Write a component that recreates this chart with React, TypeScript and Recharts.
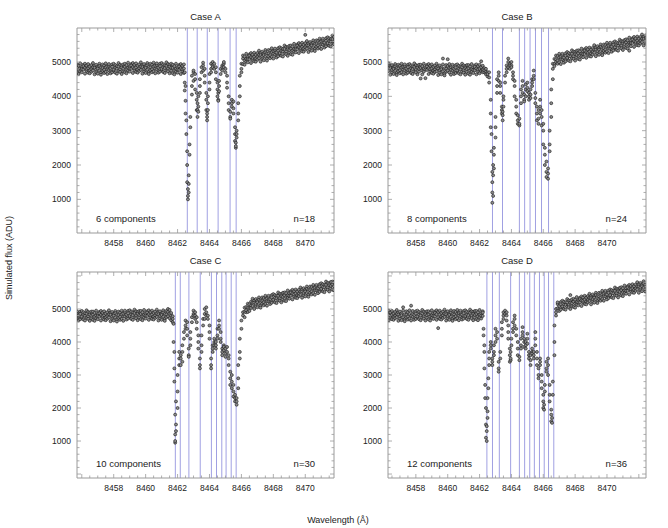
import { ScatterChart, Scatter, XAxis, YAxis, ReferenceLine } from 'recharts'

// each row: [wavelength (Å), simulated flux values (ADU) at that wavelength...]
const caseAFlux: number[][] = [
  [8455.7, 4840, 4680, 4930], [8455.8, 4770, 4890, 4650], [8455.9, 4810, 4960, 4730], [8456.0, 4860, 4700, 4790],
  [8456.1, 4920, 4780, 4880], [8456.2, 4660, 4830, 4950], [8456.3, 4740, 4800, 4900], [8456.4, 4690, 4940, 4820],
  [8456.5, 4760, 4870, 4670], [8456.6, 4910, 4790, 4720], [8456.7, 4850, 4970, 4750], [8456.8, 4640, 4890, 4830],
  [8456.9, 4920, 4710, 4780], [8457.0, 4860, 4660, 4810], [8457.1, 4950, 4750, 4880], [8457.2, 4690, 4840, 4630],
  [8457.3, 4820, 4930, 4740], [8457.4, 4770, 4900, 4680], [8457.5, 4960, 4710, 4850], [8457.6, 4790, 4650, 4870],
  [8457.7, 4890, 4760, 4940], [8457.8, 4720, 4820, 4670], [8457.9, 4930, 4860, 4700], [8458.0, 4750, 4950, 4780],
  [8458.1, 4830, 4690, 4910], [8458.2, 4660, 4880, 4800], [8458.3, 4870, 4740, 4970], [8458.4, 4780, 4920, 4710],
  [8458.5, 4900, 4650, 4840], [8458.6, 4730, 4810, 4930], [8458.7, 4860, 4700, 4950], [8458.8, 4790, 4910, 4670],
  [8458.9, 4830, 4980, 4750], [8459.0, 4880, 4720, 4810], [8459.1, 4940, 4800, 4900], [8459.2, 4680, 4850, 4970],
  [8459.3, 4760, 4820, 4920], [8459.4, 4710, 4960, 4840], [8459.5, 4780, 4890, 4690], [8459.6, 4930, 4810, 4740],
  [8459.7, 4870, 4990, 4770], [8459.8, 4660, 4910, 4850], [8459.9, 4940, 4730, 4800], [8460.0, 4880, 4680, 4830],
  [8460.1, 4970, 4770, 4900], [8460.2, 4710, 4860, 4650], [8460.3, 4840, 4950, 4760], [8460.4, 4790, 4920, 4700],
  [8460.5, 4980, 4730, 4870], [8460.6, 4810, 4670, 4890], [8460.7, 4910, 4780, 4960], [8460.8, 4740, 4840, 4690],
  [8460.9, 4950, 4880, 4720], [8461.0, 4770, 4970, 4800], [8461.1, 4850, 4710, 4930], [8461.2, 4680, 4900, 4820],
  [8461.3, 4890, 4760, 4990], [8461.4, 4800, 4940, 4730], [8461.5, 4920, 4670, 4860], [8461.6, 4750, 4830, 4950],
  [8461.7, 4830, 4670, 4920], [8461.8, 4760, 4880, 4640], [8461.9, 4800, 4950, 4720], [8462.0, 4850, 4690, 4780],
  [8462.1, 4910, 4770, 4870], [8462.2, 4650, 4820, 4940], [8462.3, 4730, 4790, 4890], [8462.4, 4680, 4930, 4810],
  [8462.45, 4700, 4400, 4170], [8462.5, 3870, 3500, 4300], [8462.55, 2900, 3300], [8462.6, 2000, 1500, 2400],
  [8462.65, 1100, 1300, 1000], [8462.7, 1700, 1200, 1450], [8462.75, 2600, 2300], [8462.8, 3100, 3400],
  [8462.9, 4300, 4050, 4600], [8463.0, 4700, 4450, 4750], [8463.1, 4500, 4200, 4650], [8463.2, 3900, 3600, 4100],
  [8463.25, 3400, 3600, 3800], [8463.3, 3700, 4000, 3550], [8463.4, 4300, 4100, 4500], [8463.5, 4700, 4850],
  [8463.6, 4900, 4750, 4980], [8463.7, 4600, 4800, 4400], [8463.8, 3900, 4100, 3600], [8463.85, 3300, 3500, 3400],
  [8463.9, 3800, 3600, 4000], [8464.0, 4400, 4650, 4200], [8464.1, 4800, 4950, 4700], [8464.2, 5000, 4900, 4850],
  [8464.3, 4950, 4800], [8464.4, 4700, 4500, 4850], [8464.5, 4200, 4000, 4400], [8464.55, 3900, 4100, 3870],
  [8464.6, 4300, 4150, 4450], [8464.7, 4650, 4800], [8464.8, 4900, 4750, 4850], [8464.9, 4950, 5000, 4850],
  [8465.0, 4800, 4700], [8465.1, 4400, 4250, 4600], [8465.2, 3800, 3600, 4000], [8465.3, 3400, 3550, 3350],
  [8465.4, 3700, 3900, 3800], [8465.5, 3650, 3500, 3850], [8465.6, 2900, 3100, 2700], [8465.65, 2500, 2650, 2550],
  [8465.7, 2800, 3000, 2900], [8465.8, 3500, 3300, 3800], [8465.9, 4300, 4000, 4600], [8466.0, 4800, 4700, 4950],
  [8466.1, 5100, 4940, 5190], [8466.2, 5040, 5160, 4920], [8466.3, 5090, 5240, 5010], [8466.4, 5150, 4990, 5080],
  [8466.5, 5220, 5080, 5180], [8466.6, 4970, 5140, 5260], [8466.7, 5060, 5120, 5220], [8466.8, 5020, 5270, 5150],
  [8466.9, 5100, 5210, 5010], [8467.0, 5260, 5140, 5070], [8467.1, 5210, 5330, 5110], [8467.2, 5010, 5260, 5200],
  [8467.3, 5300, 5090, 5160], [8467.4, 5250, 5050, 5200], [8467.5, 5350, 5150, 5280], [8467.6, 5100, 5250, 5040],
  [8467.7, 5240, 5350, 5160], [8467.8, 5200, 5330, 5110], [8467.9, 5400, 5150, 5290], [8468.0, 5240, 5100, 5320],
  [8468.1, 5340, 5210, 5390], [8468.2, 5180, 5280, 5130], [8468.3, 5400, 5330, 5170], [8468.4, 5230, 5430, 5260],
  [8468.5, 5320, 5180, 5400], [8468.6, 5160, 5380, 5300], [8468.7, 5380, 5250, 5480], [8468.8, 5300, 5440, 5230],
  [8468.9, 5430, 5180, 5370], [8469.0, 5270, 5350, 5470], [8469.1, 5390, 5230, 5480], [8469.2, 5330, 5450, 5210],
  [8469.3, 5380, 5530, 5300], [8469.4, 5440, 5280, 5370], [8469.5, 5510, 5370, 5470], [8469.6, 5260, 5430, 5550],
  [8469.7, 5350, 5410, 5510], [8469.8, 5310, 5560, 5440], [8469.9, 5390, 5500, 5300], [8470.0, 5550, 5430, 5360, 5790],
  [8470.1, 5490, 5610, 5390], [8470.2, 5290, 5540, 5480], [8470.3, 5580, 5370, 5440], [8470.4, 5530, 5330, 5480],
  [8470.5, 5630, 5430, 5560], [8470.6, 5380, 5530, 5320], [8470.7, 5520, 5630, 5440], [8470.8, 5480, 5610, 5390],
  [8470.9, 5680, 5430, 5570], [8471.0, 5520, 5380, 5600], [8471.1, 5630, 5500, 5680], [8471.2, 5470, 5570, 5420],
  [8471.3, 5690, 5620, 5460], [8471.4, 5520, 5720, 5550], [8471.5, 5610, 5470, 5690], [8471.6, 5450, 5670, 5590],
  [8471.7, 5670, 5540, 5770], [8471.8, 5590, 5730, 5520],
]
const caseALines = [8462.61, 8463.23, 8463.86, 8464.54, 8465.29, 8465.67]

const caseBFlux: number[][] = [
  [8456.3, 4840, 4960, 4740], [8456.4, 4630, 4880, 4820], [8456.5, 4910, 4700, 4770], [8456.6, 4850, 4650, 4800],
  [8456.7, 4940, 4740, 4870], [8456.8, 4680, 4830, 4620], [8456.9, 4810, 4920, 4730], [8457.0, 4760, 4890, 4670],
  [8457.1, 4950, 4700, 4840], [8457.2, 4780, 4640, 4860], [8457.3, 4880, 4750, 4930], [8457.4, 4710, 4810, 4660],
  [8457.5, 4920, 4850, 4690], [8457.6, 4740, 4940, 4770], [8457.7, 4820, 4680, 4900], [8457.8, 4650, 4870, 4790],
  [8457.9, 4860, 4730, 4960], [8458.0, 4770, 4910, 4700], [8458.1, 4890, 4640, 4830], [8458.2, 4720, 4800, 4920],
  [8458.3, 4830, 4520, 4920], [8458.4, 4760, 4880, 4640], [8458.5, 4800, 4950, 4720], [8458.6, 4850, 4530, 4780],
  [8458.7, 4910, 4770, 4870], [8458.8, 4650, 4820, 4940], [8458.9, 4730, 4790, 4890], [8459.0, 4680, 4930, 4810],
  [8459.1, 4750, 4860, 4660], [8459.2, 4900, 4780, 4710], [8459.3, 4830, 4950, 4730], [8459.4, 4620, 4870, 4810],
  [8459.5, 4900, 4690, 4760], [8459.6, 4840, 4640, 4790], [8459.7, 4930, 4730, 5100], [8459.8, 4670, 4820, 4610],
  [8459.9, 4800, 4910, 4720], [8460.0, 4750, 4880, 5080], [8460.1, 4940, 4690, 4830], [8460.2, 4770, 4630, 4850],
  [8460.3, 4870, 4740, 4920], [8460.4, 4700, 4800, 4650], [8460.5, 4910, 4840, 4680], [8460.6, 4730, 4930, 4760],
  [8460.7, 4810, 4670, 4890], [8460.8, 4640, 4860, 4780], [8460.9, 4850, 4720, 4950], [8461.0, 4760, 4900, 4690],
  [8461.1, 4880, 4630, 4820], [8461.2, 4710, 4790, 4910], [8461.3, 4820, 4660, 4910], [8461.4, 4750, 4870, 4630],
  [8461.5, 4790, 4940, 4710], [8461.6, 4840, 4680, 4770], [8461.7, 4900, 4760, 4860], [8461.8, 4640, 4810, 4930],
  [8461.9, 4720, 4780, 4880], [8462.0, 4670, 4920, 4800], [8462.1, 4740, 4850, 5020], [8462.2, 4890, 4770, 4700],
  [8462.3, 4820, 4700, 4760], [8462.4, 4720, 4640, 4800], [8462.5, 4700, 4580, 4650],
  [8462.6, 4700, 4550, 4400], [8462.7, 3500, 3900, 3100], [8462.75, 2900, 2400], [8462.8, 1800, 1200, 1500, 900],
  [8462.85, 1100, 1700, 2000], [8462.9, 2300, 2500, 1900], [8463.0, 3400, 3100, 2800], [8463.1, 4300, 4100, 4500],
  [8463.2, 4600, 4700, 4450], [8463.3, 4300, 4100, 4400], [8463.4, 3700, 3500, 3600], [8463.45, 3300, 3450, 3550],
  [8463.5, 3900, 3700, 4000], [8463.6, 4400, 4600], [8463.7, 4800, 4700, 4900], [8463.8, 5000, 4850, 5100],
  [8463.9, 4950, 4900, 4800], [8464.0, 4900, 5000, 4850], [8464.1, 4700, 4500, 4600], [8464.2, 4300, 4000, 4450],
  [8464.3, 3700, 3500, 3900], [8464.4, 3300, 3200, 3450], [8464.5, 3150, 3350, 3200], [8464.6, 3800, 4000, 4200],
  [8464.7, 4300, 4450, 4100], [8464.8, 3900, 4050, 3850], [8464.9, 4200, 4350, 4000], [8465.0, 4400, 4250, 4150],
  [8465.1, 4000, 3900, 4100], [8465.2, 4050, 4200, 3950], [8465.3, 4300, 4500, 4400], [8465.4, 4600, 4750, 4500],
  [8465.5, 4100, 3800, 3950], [8465.6, 3500, 3300, 3700], [8465.7, 3350, 3200, 3600], [8465.8, 3700, 3900, 3500],
  [8465.9, 3400, 3600, 3150], [8466.0, 3000, 2600, 3200], [8466.1, 2300, 2000, 2500], [8466.2, 1800, 1650, 2100],
  [8466.3, 1600, 1750, 1900], [8466.4, 2600, 2400, 3000], [8466.5, 3800, 3400, 4200], [8466.6, 4800, 4500, 4950],
  [8466.7, 4940, 5090, 4880], [8466.8, 5080, 5190, 5000], [8466.9, 5040, 5170, 4950], [8467.0, 5240, 4990, 5130],
  [8467.1, 5080, 4940, 5160], [8467.2, 5190, 5060, 5240], [8467.3, 5030, 5130, 4980], [8467.4, 5250, 5180, 5020],
  [8467.5, 5090, 5290, 5120], [8467.6, 5180, 5040, 5260], [8467.7, 5020, 5240, 5160], [8467.8, 5240, 5110, 5340],
  [8467.9, 5160, 5300, 5090], [8468.0, 5290, 5040, 5230], [8468.1, 5130, 5210, 5330], [8468.2, 5250, 5090, 5340],
  [8468.3, 5190, 5310, 5070], [8468.4, 5240, 5390, 5160], [8468.5, 5300, 5140, 5230], [8468.6, 5370, 5230, 5330],
  [8468.7, 5120, 5290, 5410], [8468.8, 5210, 5270, 5370], [8468.9, 5170, 5420, 5300], [8469.0, 5250, 5360, 5160],
  [8469.1, 5410, 5290, 5220], [8469.2, 5370, 5490, 5270], [8469.3, 5170, 5420, 5360], [8469.4, 5460, 5250, 5320],
  [8469.5, 5410, 5210, 5360], [8469.6, 5510, 5310, 5440], [8469.7, 5260, 5410, 5200], [8469.8, 5400, 5510, 5320],
  [8469.9, 5360, 5490, 5270], [8470.0, 5560, 5310, 5450], [8470.1, 5400, 5260, 5480], [8470.2, 5510, 5380, 5560],
  [8470.3, 5350, 5450, 5300], [8470.4, 5570, 5500, 5340], [8470.5, 5400, 5600, 5430], [8470.6, 5490, 5350, 5570],
  [8470.7, 5330, 5550, 5470], [8470.8, 5550, 5420, 5650], [8470.9, 5470, 5610, 5400], [8471.0, 5600, 5350, 5540],
  [8471.1, 5440, 5520, 5640], [8471.2, 5570, 5410, 5660], [8471.3, 5510, 5630, 5390], [8471.4, 5560, 5710, 5480, 5330],
  [8471.5, 5620, 5460, 5550], [8471.6, 5690, 5550, 5650], [8471.7, 5440, 5610, 5730], [8471.8, 5530, 5590, 5690],
  [8471.9, 5490, 5740, 5620], [8472.0, 5570, 5680, 5480], [8472.1, 5730, 5610, 5540], [8472.2, 5680, 5800, 5580],
  [8472.3, 5480, 5730, 5670], [8472.4, 5770, 5560, 5630],
]
const caseBLines = [8462.81, 8463.44, 8464.5, 8464.83, 8465.17, 8465.51, 8465.89, 8466.33]

const caseCFlux: number[][] = [
  [8455.7, 4880, 4750, 4930], [8455.8, 4710, 4810, 4660], [8455.9, 4920, 4850, 4690], [8456.0, 4740, 4940, 4770],
  [8456.1, 4820, 4680, 4900], [8456.2, 4650, 4870, 4790], [8456.3, 4860, 4730, 4960], [8456.4, 4770, 4910, 4700],
  [8456.5, 4890, 4640, 4830], [8456.6, 4720, 4800, 4920], [8456.7, 4830, 4670, 4920], [8456.8, 4760, 4880, 4640],
  [8456.9, 4800, 4950, 4720], [8457.0, 4850, 4690, 4780], [8457.1, 4910, 4770, 4870], [8457.2, 4650, 4820, 4940],
  [8457.3, 4730, 4790, 4890], [8457.4, 4680, 4930, 4810], [8457.5, 4750, 4860, 4660], [8457.6, 4900, 4780, 4710],
  [8457.7, 4840, 4960, 4740], [8457.8, 4630, 4880, 4820], [8457.9, 4910, 4700, 4770], [8458.0, 4850, 4650, 4800],
  [8458.1, 4940, 4740, 4870], [8458.2, 4680, 4830, 4620], [8458.3, 4810, 4920, 4730], [8458.4, 4760, 4890, 4670],
  [8458.5, 4950, 4700, 4840], [8458.6, 4780, 4640, 4860], [8458.7, 4900, 4770, 4950], [8458.8, 4730, 4830, 4680],
  [8458.9, 4940, 4870, 4710], [8459.0, 4760, 4960, 4790], [8459.1, 4840, 4700, 4920], [8459.2, 4670, 4890, 4810],
  [8459.3, 4880, 4750, 4980], [8459.4, 4790, 4930, 4720], [8459.5, 4910, 4660, 4850], [8459.6, 4740, 4820, 4940],
  [8459.7, 4850, 4690, 4940], [8459.8, 4780, 4900, 4660], [8459.9, 4820, 4970, 4740], [8460.0, 4870, 4710, 4800],
  [8460.1, 4930, 4790, 4890], [8460.2, 4670, 4840, 4960], [8460.3, 4750, 4810, 4910], [8460.4, 4700, 4950, 4830],
  [8460.5, 4770, 4880, 4680], [8460.6, 4920, 4800, 4730], [8460.7, 4860, 4980, 4760], [8460.8, 4650, 4900, 4840],
  [8460.9, 4930, 4720, 4790], [8461.0, 4870, 4670, 4820], [8461.1, 4960, 4760, 4890], [8461.2, 4700, 4850, 4640],
  [8461.3, 4830, 4940, 4750], [8461.4, 4780, 4910, 5000], [8461.5, 4970, 4720, 4860], [8461.6, 4800, 4660, 4880],
  [8461.7, 4700, 4600, 4780],
  [8461.75, 4550, 4000], [8461.8, 3700, 3200, 2800], [8461.85, 1800, 1200, 950, 1000], [8461.9, 1500, 2200, 1300],
  [8462.0, 2500, 3000, 2000], [8462.1, 3500, 3300, 3700], [8462.2, 3300, 3600, 3500], [8462.3, 3400, 3700, 3900],
  [8462.4, 4100, 4300], [8462.5, 4500, 4650, 4400], [8462.6, 4400, 4200, 4600], [8462.7, 3600, 3800, 3550],
  [8462.8, 3900, 4100, 4300], [8462.9, 4600, 4750], [8463.0, 4850, 4950, 4800], [8463.1, 4800, 4900, 4700],
  [8463.2, 4600, 4750, 4400], [8463.3, 4000, 4200, 3800], [8463.4, 3300, 3200, 3500], [8463.5, 3700, 3900, 4200],
  [8463.6, 4500, 4700], [8463.7, 4850, 5000, 4700], [8463.8, 4900, 5050, 4800], [8463.9, 4800, 4700],
  [8464.0, 4300, 4100, 4500], [8464.1, 3300, 3200, 3500], [8464.2, 3700, 3900, 3800], [8464.3, 4000, 3900, 4100],
  [8464.4, 3800, 3900, 4000], [8464.5, 4200, 4400, 4100], [8464.6, 4500, 4400, 4650], [8464.7, 4100, 4300, 4000],
  [8464.8, 3700, 3800, 3600], [8464.9, 3900, 3750, 3850], [8465.0, 3650, 3800, 3550], [8465.1, 3700, 3850],
  [8465.2, 3500, 3300, 3600], [8465.3, 2900, 2700, 3100], [8465.4, 2800, 2600, 3000], [8465.5, 2500, 2700, 2350],
  [8465.6, 2300, 2200, 2400], [8465.7, 2100, 2200, 2300], [8465.8, 2600, 2900, 3300], [8465.9, 3700, 4100, 3500],
  [8466.0, 4400, 4650], [8466.1, 4800, 4900],
  [8466.2, 4750, 4920, 5040], [8466.3, 4900, 4960, 5060], [8466.4, 4910, 5160, 5040], [8466.5, 5030, 5140, 4940],
  [8466.6, 5220, 5100, 5030], [8466.7, 5190, 5310, 5090], [8466.8, 5000, 5250, 5190], [8466.9, 5300, 5090, 5160],
  [8467.0, 5250, 5050, 5200], [8467.1, 5350, 5150, 5280], [8467.2, 5100, 5250, 5040], [8467.3, 5240, 5350, 5160],
  [8467.4, 5200, 5330, 5110], [8467.5, 5400, 5150, 5290], [8467.6, 5240, 5100, 5320], [8467.7, 5350, 5220, 5400],
  [8467.8, 5200, 5300, 5150], [8467.9, 5420, 5350, 5190], [8468.0, 5250, 5450, 5280], [8468.1, 5340, 5200, 5420],
  [8468.2, 5180, 5400, 5320], [8468.3, 5400, 5270, 5500], [8468.4, 5320, 5460, 5250], [8468.5, 5450, 5200, 5390],
  [8468.6, 5290, 5370, 5490], [8468.7, 5410, 5250, 5500], [8468.8, 5360, 5480, 5240], [8468.9, 5410, 5560, 5330],
  [8469.0, 5470, 5310, 5400], [8469.1, 5540, 5400, 5500], [8469.2, 5290, 5460, 5580], [8469.3, 5380, 5440, 5540],
  [8469.4, 5340, 5590, 5470], [8469.5, 5420, 5530, 5330], [8469.6, 5580, 5460, 5390], [8469.7, 5530, 5650, 5430],
  [8469.8, 5340, 5590, 5530], [8469.9, 5630, 5420, 5490], [8470.0, 5580, 5380, 5530], [8470.1, 5680, 5480, 5610],
  [8470.2, 5430, 5580, 5370], [8470.3, 5570, 5680, 5490], [8470.4, 5530, 5660, 5440], [8470.5, 5730, 5480, 5620],
  [8470.6, 5570, 5430, 5650], [8470.7, 5680, 5550, 5730], [8470.8, 5530, 5630, 5480], [8470.9, 5750, 5680, 5520],
  [8471.0, 5580, 5780, 5610], [8471.1, 5670, 5530, 5750], [8471.2, 5510, 5730, 5650], [8471.3, 5730, 5600, 5830],
  [8471.4, 5650, 5790, 5580], [8471.5, 5780, 5530, 5720], [8471.6, 5620, 5700, 5820], [8471.7, 5740, 5580, 5830],
  [8471.8, 5690, 5810, 5570],
]
const caseCLines = [8461.86, 8462.17, 8462.71, 8463.42, 8464.12, 8464.44, 8464.77, 8465.04, 8465.36, 8465.67]

const caseDFlux: number[][] = [
  [8456.3, 4660, 4830, 4950], [8456.4, 4740, 4800, 4900], [8456.5, 4690, 4940, 4820], [8456.6, 4760, 4870, 4670],
  [8456.7, 4910, 4790, 4720], [8456.8, 4850, 4970, 4750], [8456.9, 4640, 4890, 4830], [8457.0, 4920, 4710, 4780],
  [8457.1, 4860, 4660, 4810], [8457.2, 4950, 4750, 5050], [8457.3, 4690, 4840, 4630], [8457.4, 4820, 4930, 4740],
  [8457.5, 4770, 4900, 4680], [8457.6, 4960, 4710, 4850], [8457.7, 4790, 4650, 5100], [8457.8, 4890, 4760, 4940],
  [8457.9, 4720, 4820, 4670], [8458.0, 4930, 4860, 4700], [8458.1, 4750, 4950, 4780], [8458.2, 4830, 4690, 4910],
  [8458.3, 4660, 4880, 4800], [8458.4, 4870, 4740, 4970], [8458.5, 4780, 4920, 4710], [8458.6, 4900, 4650, 4840],
  [8458.7, 4730, 4810, 4930], [8458.8, 4840, 4680, 4930], [8458.9, 4770, 4890, 4650], [8459.0, 4810, 4960, 4730],
  [8459.1, 4860, 4700, 4790], [8459.2, 4920, 4780, 4880], [8459.3, 4670, 4840, 4960], [8459.4, 4750, 4420, 4910],
  [8459.5, 4700, 4950, 4830], [8459.6, 4770, 4880, 4680], [8459.7, 4920, 4800, 4730], [8459.8, 4860, 4980, 4760],
  [8459.9, 4650, 4900, 4840], [8460.0, 4930, 4720, 4790], [8460.1, 4870, 4670, 4820], [8460.2, 4960, 4760, 4890],
  [8460.3, 4700, 4850, 4640], [8460.4, 4830, 4940, 4750], [8460.5, 4780, 4910, 4690], [8460.6, 4970, 4720, 4860],
  [8460.7, 4800, 4660, 4880], [8460.8, 4900, 4770, 4950], [8460.9, 4730, 4830, 4680], [8461.0, 4940, 4870, 4710],
  [8461.1, 4760, 4960, 4790], [8461.2, 4840, 4700, 4920], [8461.3, 4670, 4890, 4810], [8461.4, 4880, 4750, 4980],
  [8461.5, 4790, 4930, 4720], [8461.6, 4910, 4660, 4850], [8461.7, 4740, 4820, 4940], [8461.8, 4850, 4690, 4940],
  [8461.9, 4780, 4900, 4660], [8462.0, 4820, 4970, 4740], [8462.1, 4870, 4710, 4800], [8462.2, 4930, 4790, 4890],
  [8462.25, 4400, 4200], [8462.3, 3700, 3900, 3200], [8462.35, 2700, 2300], [8462.4, 2000, 1500, 1100],
  [8462.45, 1000, 1300, 1450], [8462.5, 1700, 2300, 1900], [8462.55, 2900, 2600], [8462.6, 3300, 3500, 3700],
  [8462.7, 3900, 3800, 4000], [8462.8, 3500, 3300, 3400], [8462.9, 3700, 3600, 3900], [8463.0, 4200, 4400, 4000],
  [8463.1, 4300, 4100], [8463.2, 3400, 3200, 3100], [8463.3, 3500, 3700], [8463.4, 4400, 4600, 4200],
  [8463.5, 4800, 4900, 4700], [8463.6, 4950, 4850], [8463.7, 4800, 4900, 4650], [8463.8, 4300, 4500, 4100],
  [8463.9, 3600, 3400, 3800], [8463.95, 3450, 3500, 3700], [8464.0, 3900, 4100], [8464.1, 4400, 4300, 4600],
  [8464.2, 4700, 4800, 4500], [8464.3, 4400, 4200], [8464.4, 3800, 3600, 4000], [8464.5, 3450, 3550],
  [8464.6, 3900, 4100, 3800], [8464.7, 4300, 4450, 4200], [8464.8, 4000, 3850, 4100], [8464.9, 3900, 4000, 3800],
  [8465.0, 4100, 4250, 3950], [8465.1, 3600, 3700, 3500], [8465.2, 3300, 3450, 3600], [8465.3, 3700, 3800, 3650],
  [8465.4, 3600, 3500, 3700], [8465.5, 3900, 4100, 4300], [8465.6, 3700, 3500, 3300], [8465.7, 3000, 2900, 3200],
  [8465.8, 3300, 3500, 3400], [8465.9, 2800, 2600, 3000], [8466.0, 2200, 2000, 2400], [8466.05, 1950, 2100],
  [8466.1, 2700, 2500], [8466.2, 3200, 3400, 3100], [8466.3, 3500, 3300, 3000], [8466.4, 2400, 2200, 2700],
  [8466.5, 1800, 1600, 1950], [8466.55, 1550, 1700], [8466.6, 2400, 2800], [8466.7, 3600, 4000, 4500],
  [8466.8, 4900, 4800, 5000],
  [8466.9, 5150, 5020, 5200], [8467.0, 4990, 5090, 4940], [8467.1, 5210, 5140, 4980], [8467.2, 5050, 5250, 5080],
  [8467.3, 5140, 5000, 5220], [8467.4, 4980, 5200, 5120], [8467.5, 5200, 5070, 5300], [8467.6, 5120, 5260, 5050],
  [8467.7, 5250, 5000, 5190, 5420], [8467.8, 5090, 5170, 5290], [8467.9, 5220, 5060, 5310], [8468.0, 5160, 5280, 5040],
  [8468.1, 5210, 5360, 5130], [8468.2, 5270, 5110, 5200], [8468.3, 5340, 5200, 5300], [8468.4, 5090, 5260, 5380],
  [8468.5, 5190, 5250, 5350], [8468.6, 5150, 5400, 5280], [8468.7, 5230, 5340, 5140], [8468.8, 5390, 5270, 5200],
  [8468.9, 5340, 5460, 5240], [8469.0, 5140, 5390, 5330], [8469.1, 5440, 5230, 5300], [8469.2, 5390, 5190, 5340],
  [8469.3, 5490, 5290, 5420], [8469.4, 5240, 5390, 5180], [8469.5, 5380, 5490, 5300], [8469.6, 5340, 5470, 5250],
  [8469.7, 5550, 5300, 5440], [8469.8, 5390, 5250, 5470], [8469.9, 5500, 5370, 5550], [8470.0, 5340, 5440, 5290],
  [8470.1, 5560, 5490, 5330], [8470.2, 5390, 5590, 5420], [8470.3, 5490, 5350, 5570], [8470.4, 5330, 5550, 5470],
  [8470.5, 5550, 5420, 5650], [8470.6, 5470, 5610, 5400], [8470.7, 5600, 5350, 5540], [8470.8, 5440, 5520, 5640],
  [8470.9, 5570, 5410, 5660], [8471.0, 5510, 5630, 5390], [8471.1, 5560, 5710, 5480], [8471.2, 5620, 5460, 5550],
  [8471.3, 5690, 5550, 5650], [8471.4, 5440, 5610, 5730], [8471.5, 5540, 5600, 5700], [8471.6, 5500, 5750, 5630],
  [8471.7, 5580, 5690, 5490], [8471.8, 5740, 5620, 5550], [8471.9, 5690, 5810, 5590], [8472.0, 5490, 5740, 5680],
  [8472.1, 5790, 5580, 5650], [8472.2, 5740, 5540, 5690], [8472.3, 5840, 5640, 5770], [8472.4, 5590, 5740, 5530],
]
const caseDLines = [8462.46, 8462.81, 8463.24, 8463.95, 8464.5, 8464.83, 8465.15, 8465.44, 8465.76, 8466.06, 8466.33, 8466.66]

const FLUX_LABELS = [1000, 2000, 3000, 4000, 5000]
const WAVE_LABELS = [8458, 8460, 8462, 8464, 8466, 8468, 8470]

const FONT = '"Liberation Sans", Arial, Helvetica, sans-serif'
const FRAME = '#9a9a9a'
const LINE_COLOR = '#a0a0e2'

// minor tick positions inside a domain (axis decoration only)
function stepTicks(lo: number, hi: number, step: number) {
  const out: number[] = []
  for (let v = Math.ceil(lo / step) * step; v <= hi; v += step) out.push(Math.round(v / step) * step)
  return out
}

const isMultiple = (v: number, m: number) => Math.abs(v / m - Math.round(v / m)) < 1e-6

const dot = (p: any) => (
  <circle cx={p.cx} cy={p.cy} r={1.5} fill="#8c8c8c" stroke="#161616" strokeWidth={0.6} />
)

const bottomTick = (p: any) => {
  const v = p.payload.value
  const major = isMultiple(v, 2)
  return (
    <g>
      <line x1={p.x} x2={p.x} y1={p.y} y2={p.y - (major ? 4 : 2.5)} stroke={FRAME} strokeWidth={0.8} />
      {WAVE_LABELS.includes(v) && (
        <text x={p.x} y={p.y + 12.5} textAnchor="middle" fontSize={8.5} fontFamily={FONT} fill="#222">{v}</text>
      )}
    </g>
  )
}
const topTick = (p: any) => {
  const major = isMultiple(p.payload.value, 2)
  return <line x1={p.x} x2={p.x} y1={p.y} y2={p.y + (major ? 4 : 2.5)} stroke={FRAME} strokeWidth={0.8} />
}
const leftTick = (p: any) => {
  const v = p.payload.value
  const major = isMultiple(v, 1000)
  return (
    <g>
      <line x1={p.x} x2={p.x + (major ? 4 : 2.5)} y1={p.y} y2={p.y} stroke={FRAME} strokeWidth={0.8} />
      {FLUX_LABELS.includes(v) && (
        <text x={p.x - 6} y={p.y + 3} textAnchor="end" fontSize={8.5} fontFamily={FONT} fill="#222">{v}</text>
      )}
    </g>
  )
}
const rightTick = (p: any) => {
  const major = isMultiple(p.payload.value, 1000)
  return <line x1={p.x} x2={p.x - (major ? 4 : 2.5)} y1={p.y} y2={p.y} stroke={FRAME} strokeWidth={0.8} />
}

interface PanelProps {
  title: string
  rows: number[][]
  lines: number[]
  comps: string
  n: string
  fx: number
  fy: number
  fw: number
  fh: number
  xDomain: [number, number]
  yDomain: [number, number]
}

const LW = 40, RW = 6, TH = 6, BH = 20

function Panel({ title, rows, lines, comps, n, fx, fy, fw, fh, xDomain, yDomain }: PanelProps) {
  const data = rows.flatMap(([w, ...fs]) => fs.map((f) => ({ w, f })))
  const xTicks = stepTicks(xDomain[0], xDomain[1], 0.5)
  const yTicks = stepTicks(yDomain[0], yDomain[1], 200)
  const axisCommon = { type: 'number' as const, allowDataOverflow: true, interval: 0 as const, tickSize: 0, tickMargin: 0, stroke: FRAME }
  return (
    <>
      <div style={{ position: 'absolute', left: fx - LW, top: fy - TH }}>
        <ScatterChart width={fw + LW + RW} height={fh + TH + BH} margin={{ top: 0, right: 0, bottom: 0, left: 0 }}>
          <XAxis xAxisId="b" dataKey="w" orientation="bottom" height={BH} domain={xDomain} ticks={xTicks} tick={bottomTick} {...axisCommon} />
          <XAxis xAxisId="t" dataKey="w" orientation="top" height={TH} domain={xDomain} ticks={xTicks} tick={topTick} {...axisCommon} />
          <YAxis yAxisId="l" dataKey="f" orientation="left" width={LW} domain={yDomain} ticks={yTicks} tick={leftTick} {...axisCommon} />
          <YAxis yAxisId="r" dataKey="f" orientation="right" width={RW} domain={yDomain} ticks={yTicks} tick={rightTick} {...axisCommon} />
          {lines.map((l) => (
            <ReferenceLine key={l} x={l} xAxisId="b" yAxisId="l" stroke={LINE_COLOR} strokeWidth={1} />
          ))}
          <Scatter data={data} xAxisId="b" yAxisId="l" shape={dot} isAnimationActive={false} />
          <Scatter data={[]} xAxisId="t" yAxisId="r" isAnimationActive={false} />
        </ScatterChart>
      </div>
      <div style={{ position: 'absolute', left: fx, width: fw, top: fy - 17, lineHeight: '12px', textAlign: 'center', fontSize: 9.5 }}>{title}</div>
      <div style={{ position: 'absolute', left: fx + 19, top: fy + fh - 20, lineHeight: '12px', fontSize: 9.5 }}>{comps}</div>
      <div style={{ position: 'absolute', right: 668 - (fx + fw - 19), top: fy + fh - 20, lineHeight: '12px', fontSize: 9.5 }}>{n}</div>
    </>
  )
}

export default function App() {
  return (
    <div style={{ position: 'absolute', left: 0, top: 0, width: 668, height: 528, background: '#fff', fontFamily: FONT, color: '#222', overflow: 'hidden' }}>
      <Panel title="Case A" rows={caseAFlux} lines={caseALines} comps="6 components" n="n=18"
        fx={77} fy={28} fw={257} fh={205} xDomain={[8455.7, 8471.8]} yDomain={[20, 5990]} />
      <Panel title="Case B" rows={caseBFlux} lines={caseBLines} comps="8 components" n="n=24"
        fx={388} fy={28} fw={258} fh={205} xDomain={[8456.25, 8472.45]} yDomain={[20, 5990]} />
      <Panel title="Case C" rows={caseCFlux} lines={caseCLines} comps="10 components" n="n=30"
        fx={77} fy={272} fw={257} fh={206} xDomain={[8455.7, 8471.8]} yDomain={[-120, 6120]} />
      <Panel title="Case D" rows={caseDFlux} lines={caseDLines} comps="12 components" n="n=36"
        fx={388} fy={272} fw={258} fh={206} xDomain={[8456.25, 8472.45]} yDomain={[-120, 6120]} />
      <div style={{ position: 'absolute', left: 9, top: 258, transform: 'translate(-50%, -50%) rotate(-90deg)', whiteSpace: 'nowrap', fontSize: 9 }}>
        Simulated flux (ADU)
      </div>
      <div style={{ position: 'absolute', left: 338, top: 520, transform: 'translate(-50%, -50%)', whiteSpace: 'nowrap', fontSize: 9 }}>
        Wavelength (Å)
      </div>
    </div>
  )
}
